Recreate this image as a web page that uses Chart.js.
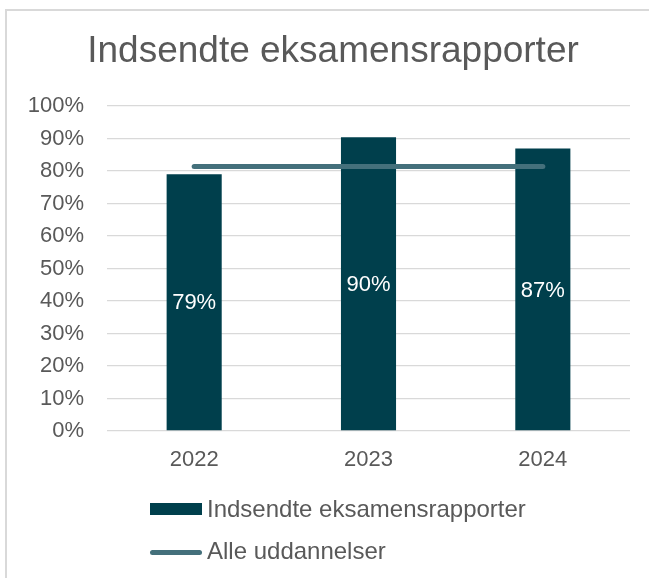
<!DOCTYPE html>
<html>
<head>
<meta charset="utf-8">
<script src="https://cdn.jsdelivr.net/npm/chart.js@4"></script>
<style>
	html, body { margin: 0; padding: 0; background: #fff; overflow: hidden; }
	#frame {
		position: absolute; left: 5px; top: 9px; width: 700px; height: 700px;
		border: 2px solid #d9d9d9;
	}
	#wrap { position: absolute; left: 0; top: 0; width: 649px; height: 578px; }
</style>
</head>
<body>
<div id="frame"></div>
<div id="wrap"><canvas id="chart" width="649" height="578"></canvas></div>
<script>
const TITLE = 'Indsendte eksamensrapporter';
const YEARS = ['2022', '2023', '2024'];
const SUBMITTED = [79, 90.4, 86.9];
const ALL_PROGRAMMES = [81.4, 81.4, 81.4];
const Y_TICKS = [0, 10, 20, 30, 40, 50, 60, 70, 80, 90, 100];

const COLORS = {
	bar: '#003f4c',
	line: '#44707b',
	text: '#595959',
	grid: '#d9d9d9',
};
const FONT = '"Liberation Sans", Arial, sans-serif';

// title centred on the outer frame, not on the canvas
const frameTitle = {
	id: 'frameTitle',
	afterDraw(chart) {
		const ctx = chart.ctx;
		ctx.save();
		ctx.font = '37px ' + FONT;
		ctx.fillStyle = COLORS.text;
		ctx.textAlign = 'center';
		ctx.textBaseline = 'middle';
		ctx.fillText(TITLE, 333, 52);
		ctx.restore();
	},
};

// white value labels in the middle of each bar
const barLabels = {
	id: 'barLabels',
	afterDatasetsDraw(chart) {
		const ctx = chart.ctx;
		const meta = chart.getDatasetMeta(1);
		ctx.save();
		ctx.font = '22px ' + FONT;
		ctx.fillStyle = '#ffffff';
		ctx.textAlign = 'center';
		ctx.textBaseline = 'middle';
		meta.data.forEach((bar, i) => {
			const v = chart.data.datasets[1].data[i];
			ctx.fillText(Math.round(v) + '%', bar.x, (bar.y + bar.base) / 2 + 1);
		});
		ctx.restore();
	},
};

// vertical legend under the plot
const stackedLegend = {
	id: 'stackedLegend',
	afterDraw(chart) {
		const ctx = chart.ctx;
		const x0 = 150;
		ctx.save();
		ctx.font = '24px ' + FONT;
		ctx.textBaseline = 'middle';

		const bar = chart.data.datasets[1];
		ctx.fillStyle = bar.backgroundColor;
		ctx.fillRect(x0, 503, 52, 12);
		ctx.fillStyle = COLORS.text;
		ctx.fillText(bar.label, x0 + 57, 510);

		const line = chart.data.datasets[0];
		ctx.strokeStyle = line.borderColor;
		ctx.lineWidth = 5;
		ctx.lineCap = 'round';
		ctx.beginPath();
		ctx.moveTo(x0 + 2.5, 552.5);
		ctx.lineTo(x0 + 49.5, 552.5);
		ctx.stroke();
		ctx.fillText(line.label, x0 + 57, 552);
		ctx.restore();
	},
};

new Chart(document.getElementById('chart'), {
	data: {
		labels: YEARS,
		datasets: [
			{
				type: 'line',
				label: 'Alle uddannelser',
				data: ALL_PROGRAMMES,
				borderColor: COLORS.line,
				backgroundColor: COLORS.line,
				borderWidth: 5,
				borderCapStyle: 'round',
				pointRadius: 0,
				order: 0,
			},
			{
				type: 'bar',
				label: 'Indsendte eksamensrapporter',
				data: SUBMITTED,
				backgroundColor: COLORS.bar,
				categoryPercentage: 1,
				barPercentage: 0.316,
				order: 1,
			},
		],
	},
	options: {
		responsive: false,
		animation: false,
		layout: { padding: { left: 0, right: 19, top: 106, bottom: 97 } },
		plugins: {
			legend: { display: false },
			tooltip: { enabled: false },
			title: { display: false },
		},
		scales: {
			x: {
				grid: { display: false, drawTicks: false },
				border: { display: false },
				ticks: {
					color: COLORS.text,
					font: { family: FONT, size: 22 },
					padding: 16,
				},
				afterFit(scale) { scale.height = 50; },
			},
			y: {
				min: 0,
				max: 100,
				afterBuildTicks(scale) { scale.ticks = Y_TICKS.map(v => ({ value: v })); },
				grid: { color: COLORS.grid, lineWidth: 1.3, drawTicks: false },
				border: { display: false },
				ticks: {
					color: COLORS.text,
					font: { family: FONT, size: 22 },
					padding: 23,
					callback: v => v + '%',
				},
				afterFit(scale) { scale.width = 107; },
			},
		},
	},
	plugins: [barLabels, stackedLegend, frameTitle],
});
</script>
</body>
</html>
